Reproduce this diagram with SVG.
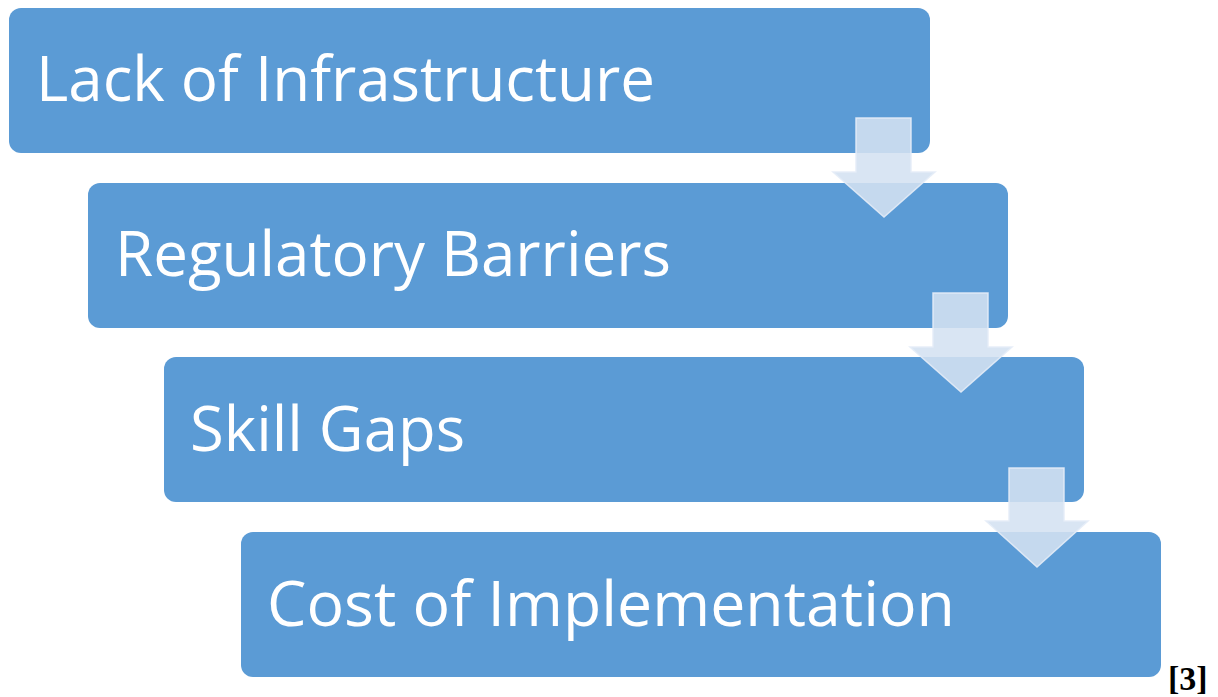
<svg xmlns="http://www.w3.org/2000/svg" width="1218" height="697" viewBox="0 0 1218 697">
<style>
.box{fill:#5b9bd5;}
.lbl{font-family:"Open Sans","Liberation Sans",sans-serif;font-size:62px;fill:#ffffff;}
.arr{fill:#d4e1f1;fill-opacity:0.88;stroke:#e4ecf7;stroke-width:1.5;stroke-opacity:0.9;}
.mark{font-family:"Liberation Serif",serif;font-weight:bold;font-size:34px;fill:#000000;}
</style>
<rect x="0" y="0" width="1218" height="697" fill="#ffffff"/>
<g id="node1">
<rect class="box" x="9" y="8" width="921" height="145" rx="12" ry="12"/>
<text class="lbl" x="36" y="101" textLength="619" lengthAdjust="spacingAndGlyphs">Lack of Infrastructure</text>
</g>
<g id="node2">
<rect class="box" x="88" y="183" width="920" height="145" rx="12" ry="12"/>
<text class="lbl" x="115" y="276" textLength="556" lengthAdjust="spacingAndGlyphs">Regulatory Barriers</text>
</g>
<g id="node3">
<rect class="box" x="164" y="357" width="920" height="145" rx="12" ry="12"/>
<text class="lbl" x="190" y="451" textLength="275" lengthAdjust="spacingAndGlyphs">Skill Gaps</text>
</g>
<g id="node4">
<rect class="box" x="241" y="532" width="920" height="145" rx="12" ry="12"/>
<text class="lbl" x="267" y="626" textLength="688" lengthAdjust="spacingAndGlyphs">Cost of Implementation</text>
</g>
<g id="connectors">
<path class="arr" d="M856 118 H911 V172 H935 L884 217 L833 172 H856 Z"/>
<path class="arr" d="M933 293 H988 V347 H1012 L961 392 L910 347 H933 Z"/>
<path class="arr" d="M1009 468 H1064 V521 H1088 L1037 567 L986 521 H1009 Z"/>
</g>
<text class="mark" x="1168" y="690">[3]</text>
</svg>
